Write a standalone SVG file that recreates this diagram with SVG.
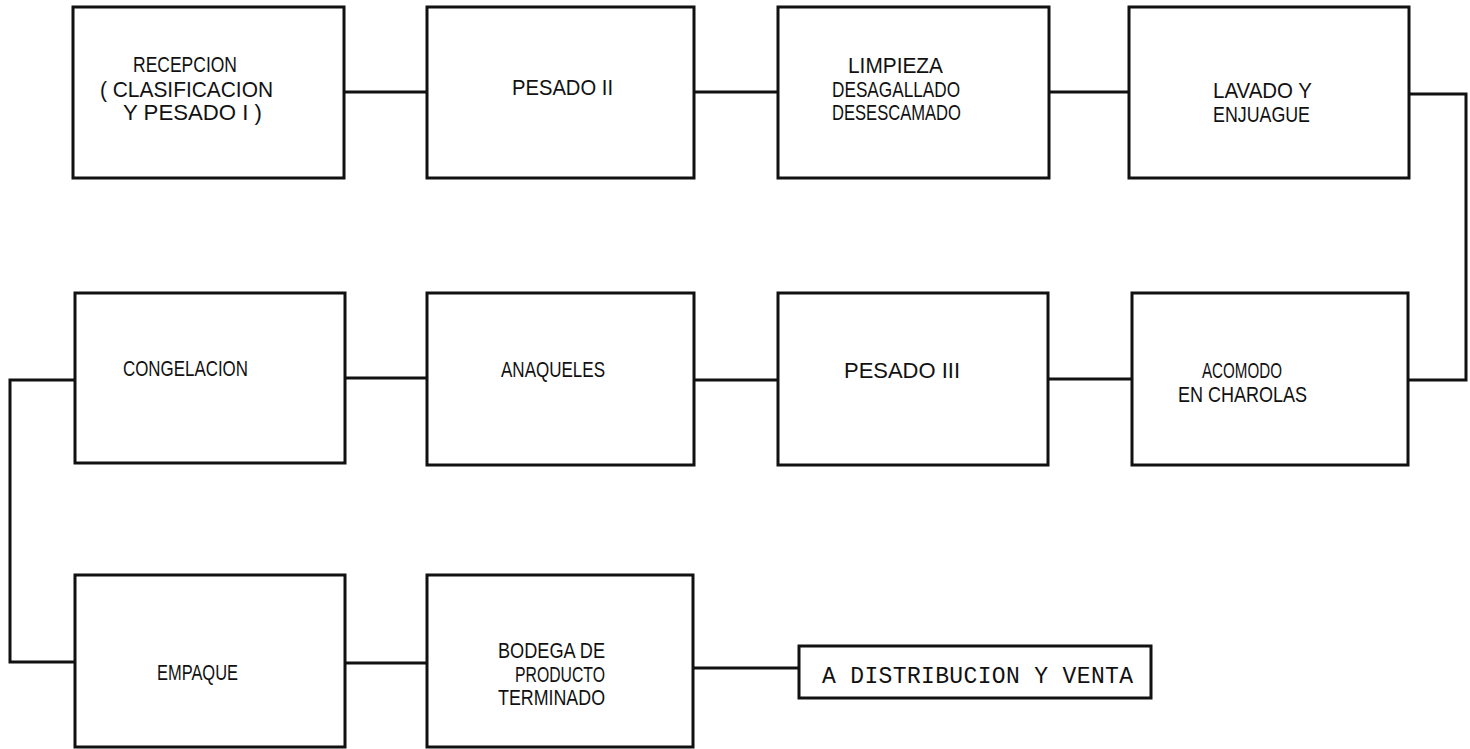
<svg xmlns="http://www.w3.org/2000/svg" width="1470" height="749" viewBox="0 0 1470 749">
<style>
.box{fill:#fff;stroke:#111;stroke-width:3}
.ln{fill:none;stroke:#111;stroke-width:3}
.t{font-family:"Liberation Sans",Arial,sans-serif;font-size:22px;fill:#111}
.m{font-family:"Liberation Mono","Courier New",monospace;font-size:23px;fill:#111}
</style>
<rect width="1470" height="749" fill="#fff"/>
<g id="connectors">
<path class="ln" d="M344 92H427"/>
<path class="ln" d="M694 92H778"/>
<path class="ln" d="M1049 92H1129"/>
<path class="ln" d="M1409 94H1466V380H1408"/>
<path class="ln" d="M1132 379H1048"/>
<path class="ln" d="M778 380H694"/>
<path class="ln" d="M427 378H345"/>
<path class="ln" d="M75 380H10V662H75"/>
<path class="ln" d="M345 663H427"/>
<path class="ln" d="M693 668H799"/>
</g>
<g id="recepcion">
<rect class="box" x="73" y="7" width="271" height="171"/>
<text class="t" x="133" y="72" textLength="104" lengthAdjust="spacingAndGlyphs">RECEPCION</text>
<text class="t" x="100" y="97" textLength="173" lengthAdjust="spacingAndGlyphs">( CLASIFICACION</text>
<text class="t" x="123" y="120" textLength="139" lengthAdjust="spacingAndGlyphs">Y PESADO I )</text>
</g>
<g id="pesado2">
<rect class="box" x="427" y="7" width="267" height="171"/>
<text class="t" x="512" y="95" textLength="101" lengthAdjust="spacingAndGlyphs">PESADO II</text>
</g>
<g id="limpieza">
<rect class="box" x="778" y="7" width="271" height="171"/>
<text class="t" x="848" y="73" textLength="95" lengthAdjust="spacingAndGlyphs">LIMPIEZA</text>
<text class="t" x="832" y="97" textLength="128" lengthAdjust="spacingAndGlyphs">DESAGALLADO</text>
<text class="t" x="832" y="120" textLength="129" lengthAdjust="spacingAndGlyphs">DESESCAMADO</text>
</g>
<g id="lavado">
<rect class="box" x="1129" y="7" width="280" height="171"/>
<text class="t" x="1213" y="98" textLength="99" lengthAdjust="spacingAndGlyphs">LAVADO Y</text>
<text class="t" x="1213" y="122" textLength="97" lengthAdjust="spacingAndGlyphs">ENJUAGUE</text>
</g>
<g id="congelacion">
<rect class="box" x="75" y="293" width="270" height="170"/>
<text class="t" x="123" y="376" textLength="125" lengthAdjust="spacingAndGlyphs">CONGELACION</text>
</g>
<g id="anaqueles">
<rect class="box" x="427" y="293" width="267" height="172"/>
<text class="t" x="501" y="377" textLength="104" lengthAdjust="spacingAndGlyphs">ANAQUELES</text>
</g>
<g id="pesado3">
<rect class="box" x="778" y="293" width="270" height="172"/>
<text class="t" x="844" y="378" textLength="116" lengthAdjust="spacingAndGlyphs">PESADO III</text>
</g>
<g id="acomodo">
<rect class="box" x="1132" y="293" width="276" height="172"/>
<text class="t" x="1202" y="378" textLength="80" lengthAdjust="spacingAndGlyphs">ACOMODO</text>
<text class="t" x="1178" y="402" textLength="129" lengthAdjust="spacingAndGlyphs">EN CHAROLAS</text>
</g>
<g id="empaque">
<rect class="box" x="75" y="575" width="270" height="172"/>
<text class="t" x="157" y="680" textLength="81" lengthAdjust="spacingAndGlyphs">EMPAQUE</text>
</g>
<g id="bodega">
<rect class="box" x="427" y="575" width="266" height="172"/>
<text class="t" x="498" y="658" textLength="107" lengthAdjust="spacingAndGlyphs">BODEGA DE</text>
<text class="t" x="515" y="682" textLength="90" lengthAdjust="spacingAndGlyphs">PRODUCTO</text>
<text class="t" x="498" y="705" textLength="107" lengthAdjust="spacingAndGlyphs">TERMINADO</text>
</g>
<g id="distribucion">
<rect class="box" x="799" y="646" width="352" height="52"/>
<text class="m" x="822" y="683" textLength="311" lengthAdjust="spacing">A DISTRIBUCION Y VENTA</text>
</g>
</svg>
